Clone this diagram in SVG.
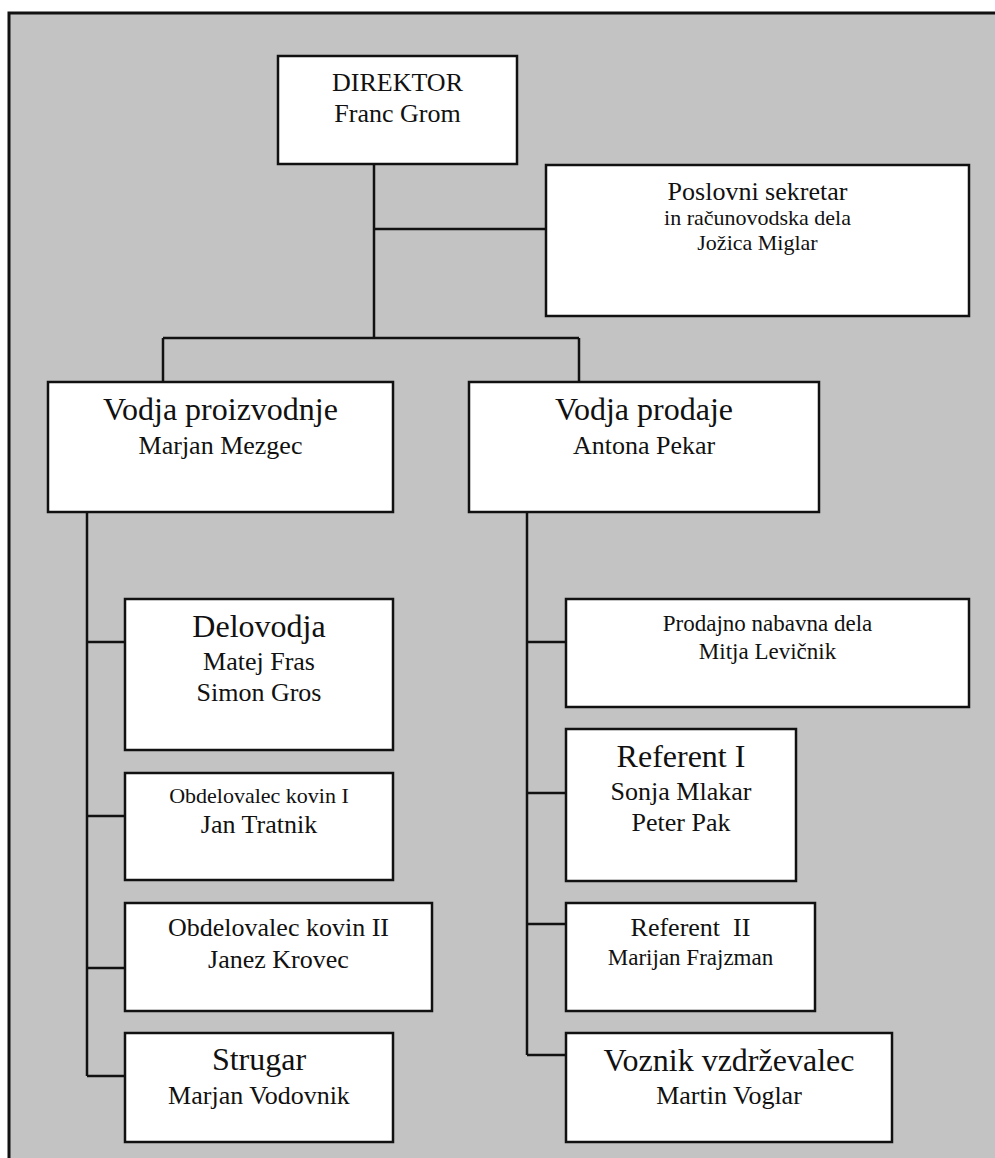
<svg xmlns="http://www.w3.org/2000/svg" width="995" height="1158" viewBox="0 0 995 1158">
<style>
.box{fill:#ffffff;stroke:#111;stroke-width:2.5}
.ln{stroke:#111;stroke-width:2.5;fill:none}
text{font-family:"Liberation Serif","Times New Roman",serif;fill:#111;text-anchor:middle}
.l{font-size:32px}
.m{font-size:26px}
.s{font-size:22px}
.t{font-size:23px}
</style>
<rect x="0" y="0" width="995" height="1158" fill="#ffffff"/>
<rect x="9" y="13" width="1000" height="1160" fill="#c3c3c3" stroke="#111" stroke-width="3"/>
<g id="connectors">
<path class="ln" d="M374 164V338M374 229H546M163 338H579M163 338V382M579 338V382"/>
<path class="ln" d="M87 512V1076M87 642H125M87 816H125M87 968H125M87 1076H125"/>
<path class="ln" d="M527 512V1055M527 642H566M527 793H566M527 924H566M527 1055H566"/>
</g>
<g id="direktor"><rect class="box" x="278" y="56" width="239" height="108"/>
<text class="m" x="397.5" y="91">DIREKTOR</text><text class="m" x="397.5" y="122">Franc Grom</text></g>
<g id="sekretar"><rect class="box" x="546" y="165" width="423" height="151"/>
<text class="m" x="757.5" y="200">Poslovni sekretar</text><text class="s" x="757.5" y="225">in računovodska dela</text><text class="s" x="757.5" y="250">Jožica Miglar</text></g>
<g id="vodja-proizvodnje"><rect class="box" x="48" y="382" width="345" height="130"/>
<text class="l" x="220.5" y="420">Vodja proizvodnje</text><text class="m" x="220.5" y="454">Marjan Mezgec</text></g>
<g id="vodja-prodaje"><rect class="box" x="469" y="382" width="350" height="130"/>
<text class="l" x="644" y="420">Vodja prodaje</text><text class="m" x="644" y="454">Antona Pekar</text></g>
<g id="delovodja"><rect class="box" x="125" y="599" width="268" height="151"/>
<text class="l" x="259" y="637">Delovodja</text><text class="m" x="259" y="670">Matej Fras</text><text class="m" x="259" y="701">Simon Gros</text></g>
<g id="obdelovalec1"><rect class="box" x="125" y="773" width="268" height="107"/>
<text class="s" x="259" y="803">Obdelovalec kovin I</text><text class="m" x="259" y="833">Jan Tratnik</text></g>
<g id="obdelovalec2"><rect class="box" x="125" y="903" width="307" height="108"/>
<text class="m" x="278.5" y="936">Obdelovalec kovin II</text><text class="m" x="278.5" y="968">Janez Krovec</text></g>
<g id="strugar"><rect class="box" x="125" y="1033" width="268" height="109"/>
<text class="l" x="259" y="1070">Strugar</text><text class="m" x="259" y="1104">Marjan Vodovnik</text></g>
<g id="prodajno"><rect class="box" x="566" y="599" width="403" height="108"/>
<text class="t" x="767.5" y="631">Prodajno nabavna dela</text><text class="t" x="767.5" y="659">Mitja Levičnik</text></g>
<g id="referent1"><rect class="box" x="566" y="729" width="230" height="152"/>
<text class="l" x="681" y="767">Referent I</text><text class="m" x="681" y="800">Sonja Mlakar</text><text class="m" x="681" y="831">Peter Pak</text></g>
<g id="referent2"><rect class="box" x="566" y="903" width="249" height="108"/>
<text class="m" x="690.5" y="936" xml:space="preserve">Referent  II</text><text class="t" x="690.5" y="965">Marijan Frajzman</text></g>
<g id="voznik"><rect class="box" x="566" y="1033" width="326" height="109"/>
<text class="l" x="729" y="1071">Voznik vzdrževalec</text><text class="m" x="729" y="1104">Martin Voglar</text></g>
</svg>
